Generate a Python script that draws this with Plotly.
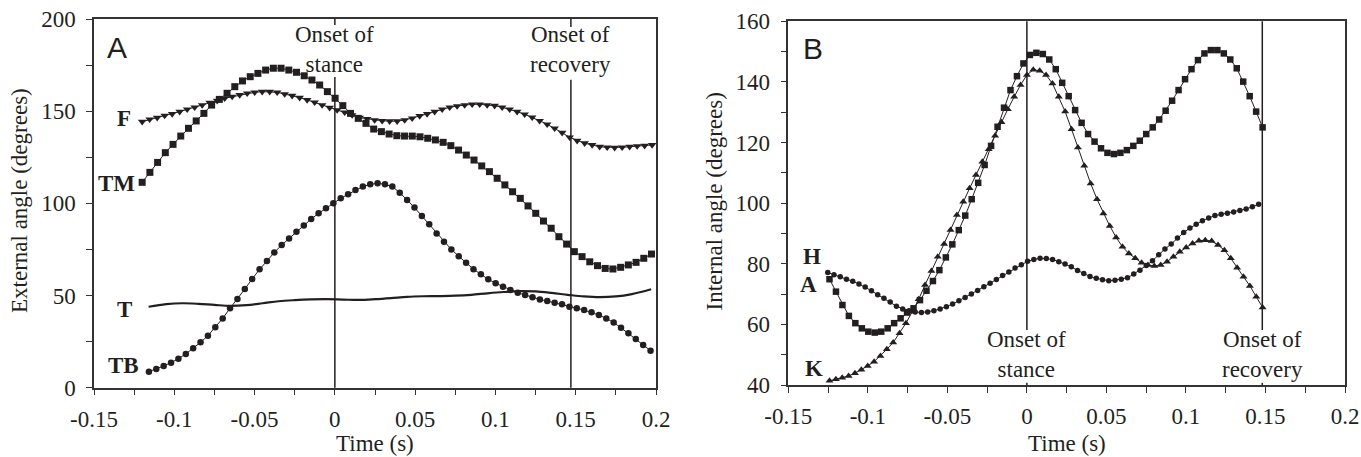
import numpy as np
import plotly.graph_objects as go

# ---------------- Panel A: external angles (degrees) ----------------
A_F_t0, A_F_t1 = -0.120, 0.1976
A_F = [144.3, 145.6, 146.5, 147.6, 148.5, 149.7, 151.0, 152.1, 153.3, 154.6, 155.7, 157.0,
       157.9, 158.8, 159.7, 160.2, 160.6, 160.6, 160.2, 159.3, 158.4, 157.3, 156.1, 154.8,
       153.3, 151.9, 150.6, 149.4, 147.9, 146.5, 145.8, 145.2, 144.8, 144.6, 144.6, 145.2,
       146.1, 147.4, 148.5, 149.7, 151.0, 152.1, 152.8, 153.3, 153.7, 153.7, 153.3, 153.0,
       152.1, 151.0, 149.7, 148.3, 146.7, 144.8, 142.9, 140.7, 138.3, 135.8, 134.0, 132.6,
       131.7, 130.7, 130.4, 130.2, 130.4, 130.7, 131.1, 131.3, 131.7]

A_TM_t0, A_TM_t1 = -0.120, 0.1972
A_TM = [111.4, 116.8, 122.2, 127.5, 132.0, 136.5, 140.7, 144.7, 148.8, 153.3, 156.4, 159.7,
        163.3, 166.4, 168.7, 170.5, 172.3, 173.3, 173.3, 172.3, 171.1, 169.2, 166.9, 164.2,
        160.6, 157.0, 153.0, 148.8, 146.1, 143.4, 140.3, 138.9, 137.6, 136.7, 136.5, 136.5,
        136.1, 135.3, 134.4, 133.1, 131.3, 128.9, 126.2, 123.5, 120.3, 117.2, 113.6, 110.0,
        106.3, 102.7, 98.6, 94.6, 90.4, 86.5, 81.9, 77.9, 73.8, 71.1, 68.3, 66.2, 64.7, 64.4,
        65.3, 66.6, 68.0, 70.2, 72.5]

A_TB_t0, A_TB_t1 = -0.1158, 0.1966
A_TB = [8.7, 10.1, 11.8, 13.6, 15.7, 18.3, 21.4, 24.6, 28.2, 32.8, 37.6, 43.1, 48.1, 53.5,
        59.0, 64.2, 68.7, 73.4, 77.4, 81.0, 84.6, 88.0, 91.5, 94.6, 97.3, 100.0, 102.7, 104.9,
        107.2, 109.1, 110.3, 110.9, 110.3, 109.1, 105.8, 101.8, 97.8, 93.1, 88.6, 83.7, 79.2,
        75.0, 71.3, 67.8, 64.3, 61.5, 58.8, 56.6, 54.8, 53.0, 51.5, 50.3, 49.0, 47.9, 47.0,
        46.1, 45.2, 43.9, 43.1, 42.1, 40.9, 39.4, 37.6, 35.3, 32.5, 29.5, 26.4, 23.2, 20.1]

A_T_time = [-0.116, -0.105, -0.095, -0.085, -0.075, -0.065, -0.055, -0.045, -0.035, -0.025,
            -0.015, -0.005, 0.005, 0.015, 0.025, 0.035, 0.045, 0.055, 0.065, 0.075, 0.085,
            0.095, 0.105, 0.115, 0.125, 0.135, 0.145, 0.155, 0.165, 0.175, 0.185, 0.197]
A_T = [43.9, 45.3, 45.8, 45.5, 44.9, 44.4, 44.8, 45.8, 46.9, 47.5, 47.9, 48.0, 47.8, 47.6,
       48.0, 48.6, 49.3, 49.6, 49.7, 49.9, 50.4, 51.2, 51.9, 52.4, 52.2, 51.4, 50.4, 49.5,
       49.1, 49.5, 50.8, 53.4]

# ---------------- Panel B: internal angles (degrees) ----------------
B_A_t0, B_A_t1 = -0.1241, 0.1482
B_A = [74.9, 70.8, 66.4, 62.8, 60.4, 58.7, 57.6, 57.3, 57.6, 58.7, 60.4, 62.0, 63.9, 65.3,
       68.0, 71.1, 74.3, 77.9, 82.1, 86.4, 91.1, 95.9, 101.3, 106.7, 112.6, 118.9, 125.2,
       131.5, 137.3, 141.9, 146.1, 148.9, 149.6, 149.2, 147.4, 144.2, 139.7, 135.3, 130.7,
       126.5, 122.8, 120.3, 118.1, 116.6, 116.2, 116.6, 117.5, 118.9, 120.6, 122.8, 125.0,
       127.6, 130.5, 133.8, 137.3, 140.9, 144.2, 147.2, 149.4, 150.5, 150.5, 149.4, 147.4,
       144.5, 140.1, 135.3, 130.2, 125.0]

B_H_t0, B_H_t1 = -0.1252, 0.1457
B_H = [77.1, 76.4, 75.7, 74.9, 74.2, 73.3, 72.3, 71.1, 69.8, 68.6, 67.4, 66.0, 65.1, 64.5,
       64.1, 63.9, 64.1, 64.5, 65.1, 65.8, 66.7, 67.8, 68.9, 70.0, 71.2, 72.4, 73.6, 74.8,
       76.1, 77.3, 78.6, 79.7, 80.8, 81.4, 81.8, 81.7, 81.4, 80.7, 79.9, 79.0, 77.8, 76.8,
       75.8, 75.2, 74.7, 74.4, 74.6, 74.9, 75.4, 76.6, 77.9, 79.4, 81.0, 83.0, 84.9, 86.5,
       88.5, 90.3, 91.8, 93.0, 94.2, 95.1, 95.9, 96.3, 96.7, 97.1, 97.6, 98.1, 98.8, 99.6]

B_K_t0, B_K_t1 = -0.1241, 0.1482
B_K = [41.4, 41.9, 42.4, 43.0, 43.9, 45.0, 46.3, 47.7, 49.6, 51.8, 54.0, 57.1, 60.4, 64.2,
       68.3, 73.0, 77.6, 82.3, 86.5, 91.1, 96.1, 100.5, 104.9, 109.3, 113.7, 117.8, 122.2,
       126.7, 131.0, 135.1, 139.0, 142.3, 144.0, 143.7, 142.3, 139.5, 135.1, 130.2, 124.4,
       118.4, 112.3, 106.5, 101.3, 96.6, 92.5, 88.7, 85.6, 83.4, 81.8, 80.3, 79.6, 79.3, 79.6,
       80.7, 82.3, 84.0, 85.4, 86.7, 87.6, 87.8, 87.5, 86.2, 84.5, 81.8, 78.7, 75.7, 72.7,
       69.1, 65.6]

# event times (s)
A_onset_stance, A_onset_recovery = 0.0, 0.147
B_onset_stance, B_onset_recovery = 0.0, 0.148

# tick labels
x_tickvals = [-0.15, -0.1, -0.05, 0, 0.05, 0.1, 0.15, 0.2]
x_ticktext = ["-0.15", "-0.1", "-0.05", "0", "0.05", "0.1", "0.15", "0.2"]
A_y_tickvals = [0, 50, 100, 150, 200]
B_y_tickvals = [40, 60, 80, 100, 120, 140, 160]

INK = "#231f20"
AXC = "#333333"
SERIF = "Liberation Serif, Times New Roman, serif"
SANS = "Liberation Sans, Arial, sans-serif"


def tgrid(t0, t1, vals):
    return np.linspace(t0, t1, len(vals))


fig = go.Figure()


def marked(x, y, symbol, size, xa, ya):
    fig.add_trace(go.Scatter(
        x=x, y=y, mode="lines+markers", xaxis=xa, yaxis=ya, cliponaxis=False,
        line=dict(color=INK, width=1),
        marker=dict(symbol=symbol, size=size, color=INK, line=dict(width=0)),
        showlegend=False, hoverinfo="skip"))


marked(tgrid(A_F_t0, A_F_t1, A_F), A_F, "triangle-down", 7.5, "x", "y")
marked(tgrid(A_TM_t0, A_TM_t1, A_TM), A_TM, "square", 7, "x", "y")
marked(tgrid(A_TB_t0, A_TB_t1, A_TB), A_TB, "circle", 6.5, "x", "y")
fig.add_trace(go.Scatter(x=A_T_time, y=A_T, mode="lines", xaxis="x", yaxis="y",
                         line=dict(color=INK, width=2.2, shape="spline"),
                         showlegend=False, hoverinfo="skip"))

marked(tgrid(B_A_t0, B_A_t1, B_A), B_A, "square", 6.5, "x2", "y2")
marked(tgrid(B_H_t0, B_H_t1, B_H), B_H, "circle", 5.5, "x2", "y2")
marked(tgrid(B_K_t0, B_K_t1, B_K), B_K, "triangle-up", 7, "x2", "y2")

axis_common = dict(showline=True, linecolor=AXC, linewidth=1.5, mirror=True,
                   ticks="outside", ticklen=6, tickwidth=1.2, tickcolor=AXC,
                   showgrid=False, zeroline=False, automargin=False,
                   tickfont=dict(family=SERIF, size=23, color=INK))

fig.update_layout(
    width=1361, height=457,
    margin=dict(l=0, r=0, t=0, b=0, pad=0, autoexpand=False),
    paper_bgcolor="white", plot_bgcolor="white",
    xaxis=dict(domain=[94 / 1361, 656 / 1361], range=[-0.15, 0.2], anchor="y",
               tickmode="array", tickvals=x_tickvals, ticktext=x_ticktext,
               minor=dict(dtick=0.025, tick0=0, ticks="outside", ticklen=6, tickcolor=AXC),
               ticklabelstandoff=4, **axis_common),
    yaxis=dict(domain=[(457 - 387.7) / 457, (457 - 19) / 457], range=[0, 200], anchor="x",
               tickmode="array", tickvals=A_y_tickvals,
               minor=dict(dtick=25, tick0=0, ticks="outside", ticklen=6, tickcolor=AXC),
               ticklabelstandoff=6, **axis_common),
    xaxis2=dict(domain=[788.3 / 1361, 1345 / 1361], range=[-0.15, 0.2], anchor="y2",
                tickmode="array", tickvals=x_tickvals, ticktext=x_ticktext,
                minor=dict(dtick=0.025, tick0=0, ticks="outside", ticklen=6, tickcolor=AXC),
                ticklabelstandoff=4, **axis_common),
    yaxis2=dict(domain=[(457 - 385) / 457, (457 - 21.3) / 457], range=[40, 160], anchor="x2",
                tickmode="array", tickvals=B_y_tickvals,
                minor=dict(dtick=10, tick0=0, ticks="outside", ticklen=6, tickcolor=AXC),
                ticklabelstandoff=6, **axis_common),
)

# event lines, interrupted where their labels sit (fractions of the axis height)
event_segments = [
    (A_onset_stance, "x", "y domain", [(0.0, 0.843), (0.984, 1.0)]),
    (A_onset_recovery, "x", "y domain", [(0.0, 0.835), (0.978, 1.0)]),
    (B_onset_stance, "x2", "y2 domain", [(0.0, 0.006), (0.151, 1.0)]),
    (B_onset_recovery, "x2", "y2 domain", [(0.0, 0.006), (0.151, 1.0)]),
]
for xv, xr, yr, segs in event_segments:
    for y0, y1 in segs:
        fig.add_shape(type="line", xref=xr, yref=yr, x0=xv, x1=xv, y0=y0, y1=y1,
                      line=dict(color=INK, width=1.5))

ann_font = dict(family=SERIF, size=23, color=INK)
lab_font = dict(family=SERIF, size=23, color=INK)


def note(text, x, y, xr, yr, **kw):
    d = dict(text=text, x=x, y=y, xref=xr, yref=yr, showarrow=False)
    d.update(kw)
    fig.add_annotation(**d)


# event labels
for txt, x, y, xr, yr in [("Onset of<br>stance", A_onset_stance, 183.2, "x", "y"),
                          ("Onset of<br>recovery", A_onset_recovery, 183.2, "x", "y"),
                          ("Onset of<br>stance", B_onset_stance, 50.1, "x2", "y2"),
                          ("Onset of<br>recovery", B_onset_recovery, 50.1, "x2", "y2")]:
    note(txt, x, y, xr, yr, font=ann_font, borderpad=0,
         xanchor="center", yanchor="middle")

# series labels
for txt, x, y in [("F", -0.1255, 145.8), ("TM", -0.1235, 110.8), ("T", -0.1250, 42.4),
                  ("TB", -0.1205, 12.3)]:
    note("<b>%s</b>" % txt, x, y, "x", "y", font=lab_font, xanchor="right", yanchor="middle")
for txt, x, y in [("H", -0.1281, 82.4), ("A", -0.1306, 73.0), ("K", -0.1269, 45.6)]:
    note("<b>%s</b>" % txt, x, y, "x2", "y2", font=lab_font, xanchor="right", yanchor="middle")

# panel letters
note("A", -0.1357, 184.3, "x", "y", font=dict(family=SANS, size=30, color=INK),
     xanchor="center", yanchor="middle")
note("B", -0.1347, 150.9, "x2", "y2", font=dict(family=SANS, size=30, color=INK),
     xanchor="center", yanchor="middle")

# axis titles
title_font = dict(family=SERIF, size=23, color=INK)
note("Time (s)", 375 / 1361, 0.0, "paper", "paper", font=title_font,
     xanchor="center", yanchor="bottom", borderpad=0)
note("Time (s)", 1066.7 / 1361, 0.0, "paper", "paper", font=title_font,
     xanchor="center", yanchor="bottom", borderpad=0)
note("External angle (degrees)", 19 / 1361, 1 - 201 / 457, "paper", "paper", font=title_font,
     textangle=-90, xanchor="center", yanchor="middle")
note("Internal angle (degrees)", 713.5 / 1361, 1 - 201 / 457, "paper", "paper",
     font=title_font, textangle=-90, xanchor="center", yanchor="middle")

fig.write_html("out.html")
